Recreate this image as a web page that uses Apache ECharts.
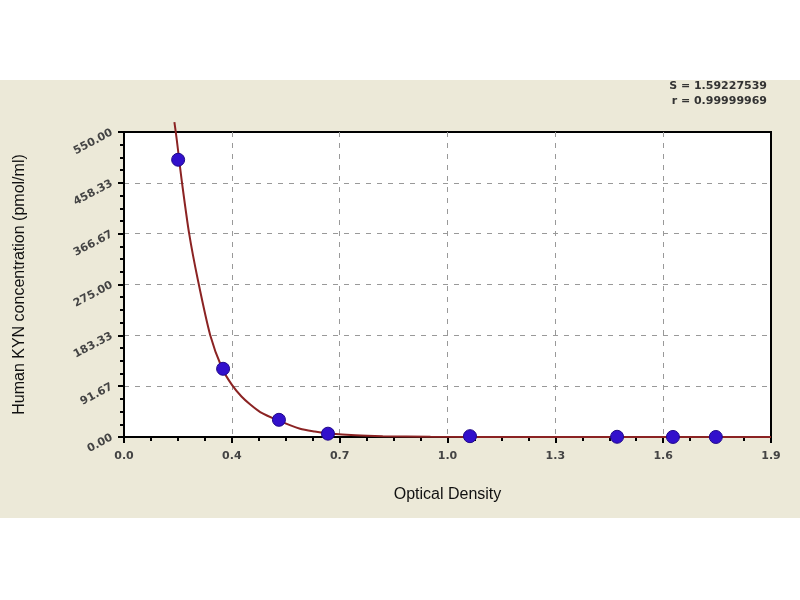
<!DOCTYPE html>
<html>
<head>
<meta charset="utf-8">
<script src="https://cdn.jsdelivr.net/npm/echarts@6/dist/echarts.min.js"></script>
<style>
html,body{margin:0;padding:0;background:#fff;}
#main{width:800px;height:600px;}
</style>
</head>
<body>
<div id="main"></div>
<script>
// standard points (OD, concentration)
var pointOD = [0.159, 0.291, 0.455, 0.599, 1.016, 1.448, 1.612, 1.738];
var pointConc = [500, 123, 31, 6, 1.5, 0.4, 0.1, 0.03];

// fitted curve
var curveOD = [0.148, 0.155, 0.162, 0.170, 0.191, 0.217, 0.253, 0.288, 0.317, 0.345, 0.37, 0.40, 0.449, 0.517, 0.56, 0.602, 0.68, 0.76, 0.9, 1.2, 1.5, 1.9];
var curveConc = [568, 536, 500, 460, 368, 283, 184, 124, 94, 73, 59, 45, 31, 15, 10, 6.5, 3, 1.5, 0.5, 0, 0, 0];

var xTickLabels = ['0.0', '0.4', '0.7', '1.0', '1.3', '1.6', '1.9'];
var yTickLabels = ['0.00', '91.67', '183.33', '275.00', '366.67', '458.33', '550.00'];

var xMax = 1.9, yMax = 550;
var xStep = xMax / 6, yStep = yMax / 6;

var pts = [];
for (var i in pointOD) {
	pts.push([pointOD[i], pointConc[i]]);
}
var curve = [];
for (var j in curveOD) {
	curve.push([curveOD[j], curveConc[j]]);
}

var myChart = echarts.init(document.getElementById('main'));
var option = {
	animation: false,
	backgroundColor: '#ffffff',
	graphic: [
		{
			type: 'rect', z: -10, silent: true,
			shape: {x: 0, y: 80, width: 800, height: 438},
			style: {fill: '#ECE9D8'}
		},
		{
			type: 'text', right: 33, top: 81,
			style: {text: 'S = 1.59227539', fill: '#333', font: 'bold 11px "DejaVu Sans"', textAlign: 'right'}
		},
		{
			type: 'text', right: 33, top: 96,
			style: {text: 'r = 0.99999969', fill: '#333', font: 'bold 11px "DejaVu Sans"', textAlign: 'right'}
		}
	],
	grid: {
		left: 124, top: 132, right: 29, bottom: 163,
		show: true, backgroundColor: '#ffffff', borderColor: '#000', borderWidth: 2
	},
	xAxis: {
		type: 'value', min: 0, max: xMax, interval: xStep,
		name: 'Optical Density', nameLocation: 'middle', nameGap: 50,
		nameTextStyle: {color: '#111', fontSize: 16, fontFamily: 'Liberation Sans'},
		axisLine: {lineStyle: {color: '#000', width: 2}},
		axisTick: {show: true, length: 6, lineStyle: {color: '#000', width: 2}},
		minorTick: {show: true, splitNumber: 4, length: 4, lineStyle: {color: '#000', width: 2}},
		axisLabel: {
			color: '#444', fontSize: 11, fontWeight: 'bold', fontFamily: 'DejaVu Sans', margin: 14,
			formatter: function (v) { return xTickLabels[Math.round(v / xStep)]; }
		},
		splitLine: {show: true, showMinLine: false, showMaxLine: false, lineStyle: {color: '#999', type: [5, 6], width: 1}}
	},
	yAxis: {
		type: 'value', min: 0, max: yMax, interval: yStep,
		name: 'Human KYN concentration (pmol/ml)', nameLocation: 'middle', nameGap: 96, nameRotate: 90,
		nameTextStyle: {color: '#111', fontSize: 16, fontFamily: 'Liberation Sans'},
		axisLine: {show: true, lineStyle: {color: '#000', width: 2}},
		axisTick: {show: true, length: 6, lineStyle: {color: '#000', width: 2}},
		minorTick: {show: true, splitNumber: 4, length: 4, lineStyle: {color: '#000', width: 2}},
		axisLabel: {
			color: '#444', fontSize: 11, fontWeight: 'bold', fontFamily: 'DejaVu Sans', rotate: 28, margin: 12,
			formatter: function (v) { return yTickLabels[Math.round(v / yStep)]; }
		},
		splitLine: {show: true, showMinLine: false, showMaxLine: false, lineStyle: {color: '#999', type: [5, 6], width: 1}}
	},
	series: [
		{
			name: 'fit',
			type: 'line',
			data: curve,
			showSymbol: false,
			smooth: 0.25,
			clip: false,
			lineStyle: {color: '#8B2323', width: 2},
			z: 3
		},
		{
			name: 'standards',
			type: 'scatter',
			data: pts,
			symbol: 'circle',
			symbolSize: 13,
			itemStyle: {color: '#3210CC', borderColor: '#20088A', borderWidth: 1, opacity: 1},
			z: 4
		}
	]
};
myChart.setOption(option);
</script>
</body>
</html>
